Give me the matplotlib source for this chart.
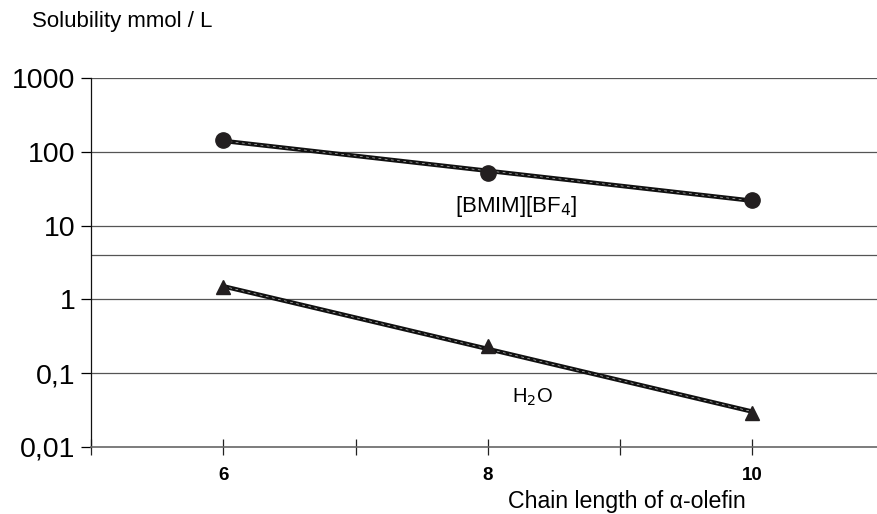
import numpy as np
import matplotlib
matplotlib.use("Agg")
import matplotlib.pyplot as plt
from matplotlib.ticker import FixedLocator, NullLocator

plt.rcParams['font.family'] = ['Liberation Sans', 'DejaVu Sans']

# data
chain = [6, 8, 10]
bmim = [145, 52, 22.4]
water = [1.45, 0.23, 0.029]
y_ticks = [0.01, 0.1, 1, 10, 100, 1000]
y_labels = ['0,01', '0,1', '1', '10', '100', '1000']
x_ticks = [5, 6, 7, 8, 9, 10]
x_labels = ['', '6', '', '8', '', '10']
extra_grid = 4

fig = plt.figure(figsize=(8.78, 5.14), dpi=100)
ax = fig.add_axes([0.1036, 0.1304, 0.8964, 0.7178])
ax.set_yscale('log')
ax.set_ylim(0.01, 1000)
ax.set_xlim(5, 10.95)

# grid lines
for v in y_ticks[1:] + [extra_grid]:
    ax.axhline(v, color='#555555', lw=0.9, zorder=1)

# trend lines (fit in log space)
xs = np.array(chain, dtype=float)
for vals in (bmim, water):
    k, b = np.polyfit(xs, np.log10(vals), 1)
    ax.plot(xs, 10 ** (k * xs + b), color='#111111', lw=3.2, zorder=2,
            solid_capstyle='butt')
    ax.plot(xs, 10 ** (k * xs + b), color='#bbbbbb', lw=0.5, zorder=3,
            ls=(0, (4, 5)))

ax.plot(chain, bmim, 'o', color='#231f20', ms=11, zorder=4)
ax.plot(chain, water, '^', color='#231f20', ms=10, zorder=4)

ax.text(8.215, 18, '[BMIM][BF$_4$]', fontsize=16, ha='center', va='center')
ax.text(8.34, 0.047, 'H$_2$O', fontsize=14.5, ha='center', va='center')

ax.yaxis.set_major_locator(FixedLocator(y_ticks))
ax.yaxis.set_minor_locator(NullLocator())
ax.set_yticklabels(y_labels, fontsize=20.5)
ax.tick_params(axis='y', direction='out', length=7, width=0.9, pad=4)

ax.xaxis.set_major_locator(FixedLocator(x_ticks))
ax.set_xticklabels(x_labels, fontsize=13.5, fontweight='bold')
ax.tick_params(axis='x', direction='inout', length=11, width=0.9, pad=9,
               color='#222222')

for s in ('top', 'right'):
    ax.spines[s].set_visible(False)
ax.spines['left'].set_color('#111111')
ax.spines['left'].set_linewidth(0.9)
ax.spines['bottom'].set_color('#666666')
ax.spines['bottom'].set_linewidth(1.2)

fig.text(0.036, 0.958, 'Solubility mmol / L', fontsize=16, ha='left', va='center')
fig.text(0.714, 0.001, 'Chain length of \u03b1-olefin', fontsize=16.7,
         ha='center', va='bottom')

fig.savefig('out.png', dpi=100)
